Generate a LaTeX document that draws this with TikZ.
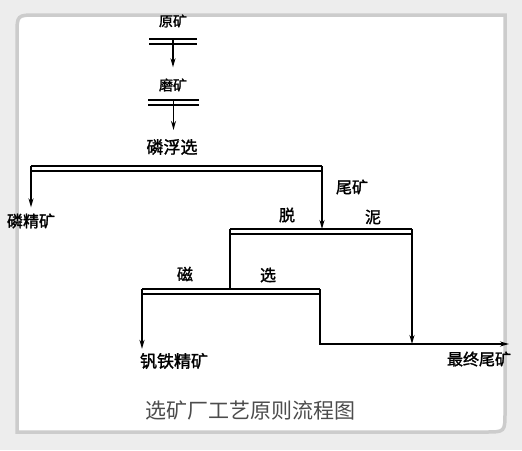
\documentclass[tikz,border=0pt]{standalone}
\usepackage{fontspec}
\newfontfamily\cjk{Noto Sans CJK SC}
\newfontfamily\cjkb[FakeBold=1.6]{Noto Sans CJK SC}
\usetikzlibrary{arrows.meta,calc}

\tikzset{
  lbl/.style={font=\cjkb\fontsize{16}{16}\selectfont, inner sep=0pt},
  small lbl/.style={lbl, font=\cjkb\fontsize{14}{14}\selectfont},
  caption/.style={font=\cjk\fontsize{21}{21}\selectfont, text=black!70, inner sep=0pt},
  flow/.style={line width=1.6pt, -{Stealth[length=9pt,width=5pt]}},
  pipe/.style={line width=1.6pt},
  bartop/.style={line width=2.8pt},
  barlow/.style={line width=1.4pt},
}

% separator bar: name, left x, right x, y
\newcommand\sepbar[4]{%
  \coordinate (#1-l) at (#2,#4);
  \coordinate (#1-r) at (#3,#4);
  \coordinate (#1-m) at ($(#1-l)!0.5!(#1-r)$);
  \draw[bartop] (#1-l) -- (#1-r);
  \draw[barlow] ($(#1-l)+(0,5)$) -- ($(#1-r)+(0,5)$);
}

\begin{document}
\begin{tikzpicture}[x=1pt,y=-1pt]
        % Frame
        \useasboundingbox (0,0) rectangle (522,450);
        \fill[gray!14] (0,0) rectangle (522,450);
        \filldraw[fill=white, draw=gray!40, line width=3.5pt]
          (17,432) -- (17,35) .. controls (17,15) .. (37,15) -- (505,15)
          -- (505,412) .. controls (505,432) .. (485,432) -- cycle;

        % Labels
        \node[small lbl] (yuan) at (173,21) {原矿};
        \node[small lbl] (mo) at (173,85) {磨矿};
        \node[lbl, font=\cjkb\fontsize{17}{17}\selectfont] (fu) at (172,147) {磷浮选};
        \node[lbl] (linjing) at (31,221) {磷精矿};
        \node[lbl] (wei) at (352,187) {尾矿};
        \node[lbl] (tuo) at (287,215) {脱};
        \node[lbl] (ni) at (373,217) {泥};
        \node[lbl] (ci) at (185,274) {磁};
        \node[lbl] (xuan) at (268,275) {选};
        \node[lbl, font=\cjkb\fontsize{17}{17}\selectfont] (fan) at (174,361) {钒铁精矿};
        \node[lbl] (zui) at (479,359) {最终尾矿};
        \node[caption] (title) at (250,410) {选矿厂工艺原则流程图};

        % Bars
        \sepbar{b1}{149}{197}{39}
        \sepbar{b2}{148}{199}{100}
        \sepbar{b3}{31}{322}{166}
        \sepbar{b4}{230}{412}{229}
        \sepbar{b5}{142}{320}{289}
        \coordinate (tail) at (320,344);
        \coordinate (tail-end) at (509,344);

        % Grinding and flotation
        \draw[flow, shorten >=11pt] (b1-m) -- (b1-m |- mo.north);
        \draw[flow, shorten >=9pt] (b2-m) -- (b2-m |- fu.north);

        % Flotation products
        \draw[flow, shorten >=6pt] (b3-l) -- (b3-l |- linjing.north);
        \draw[flow] (b3-r) -- (b3-r |- b4-l);

        % Desliming
        \draw[pipe] (b4-l) -- (b4-l |- b5-l);
        \draw[flow] (b4-r) -- (b4-r |- tail);

        % Magnetic separation
        \draw[flow, shorten >=4pt] (b5-l) -- (b5-l |- fan.north);
        \draw[flow] (b5-r) -- (tail) -- (tail-end);
    \end{tikzpicture}
\end{document}
